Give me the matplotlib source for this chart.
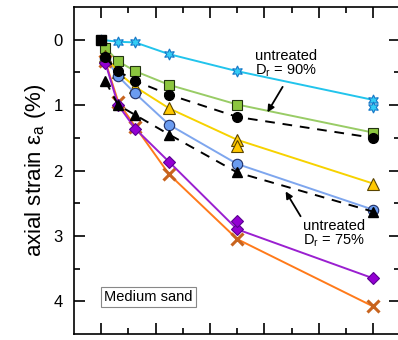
import matplotlib
matplotlib.use("Agg")
import matplotlib.pyplot as plt

plt.rcParams['font.family'] = ['Liberation Sans', 'DejaVu Sans']

# time steps (same for every test)
t = [0, 0.625, 1.25, 2.5, 5, 10]
t_late = [0.15, 0.625, 1.25, 2.5, 5, 10]

# treated specimens, axial strain (%)
cyan = [0.0, 0.03, 0.04, 0.22, 0.48, 0.92]
green = [0.12, 0.33, 0.48, 0.69, 0.99, 1.42]
yellow = [0.25, 0.50, 0.72, 1.05, 1.53, 2.20]
blue = [0.28, 0.56, 0.82, 1.30, 1.90, 2.60]
purple = [0.35, 1.00, 1.36, 1.87, 2.90, 3.65]
orange = [0.33, 0.95, 1.33, 2.06, 3.05, 4.08]

# untreated specimens
dr90 = [0.27, 0.48, 0.63, 0.84, 1.18, 1.50]
dr75 = [0.63, 1.00, 1.15, 1.45, 2.03, 2.63]

# repeat readings
cyan_rep = ([10], [1.03])
yellow_rep = ([5], [1.63])
purple_rep = ([5], [2.77])

fig = plt.figure(figsize=(3.98, 3.40), dpi=100)
ax = fig.add_axes([0.186, 0.018, 0.82, 0.961])

ax.plot(t, cyan, '-', color='#22c4ec', lw=1.4, marker=(6, 1, 0), ms=8,
        mfc='#33ccf5', mec='#1778c8', mew=0.8, zorder=3)
ax.plot(*cyan_rep, ls='none', marker=(6, 1, 0), ms=8,
        mfc='#33ccf5', mec='#1778c8', mew=0.8, zorder=3)
ax.plot(t_late, green, '-', color='#99cc66', lw=1.4, marker='s', ms=7,
        mfc='#8cc63f', mec='#223311', mew=0.8, zorder=3)
ax.plot(t_late, yellow, '-', color='#f7d200', lw=1.4, marker='^', ms=8,
        mfc='#ffc800', mec='#5a4400', mew=0.8, zorder=3)
ax.plot(*yellow_rep, ls='none', marker='^', ms=8,
        mfc='#ffc800', mec='#5a4400', mew=0.8, zorder=3)
ax.plot(t_late, blue, '-', color='#7ea6ee', lw=1.4, marker='o', ms=7.5,
        mfc='#6b9cf0', mec='#1f2f66', mew=0.8, zorder=3)
ax.plot(t_late, orange, '-', color='#ff7a1a', lw=1.4, marker='x', ms=8,
        mec='#c8641e', mew=2.2, zorder=3)
ax.plot(t_late, purple, '-', color='#9a1fd0', lw=1.4, marker='D', ms=6.5,
        mfc='#9400d3', mec='#5a0090', mew=0.8, zorder=3)
ax.plot(*purple_rep, ls='none', marker='D', ms=6.5,
        mfc='#9400d3', mec='#5a0090', mew=0.8, zorder=3)

ax.plot(t_late, dr90, color='k', lw=1.4, dashes=(5, 4), marker='o', ms=7,
        mfc='k', mec='k', zorder=4)
ax.plot(t_late, dr75, color='k', lw=1.4, dashes=(5, 4), marker='^', ms=7.5,
        mfc='k', mec='k', zorder=4)
ax.plot([0], [0], ls='none', marker='s', ms=7.5, mfc='k', mec='k', zorder=5)

# labels for the untreated curves, with pointer arrows
arrow = dict(arrowstyle='-|>', color='k', lw=1.3, mutation_scale=10,
             shrinkA=0, shrinkB=0)
ax.text(6.78, 0.37, 'untreated\nD$_\\mathregular{r}$ = 90%', ha='center',
        va='center', fontsize=10.5, linespacing=1.0)
ax.annotate('', xy=(6.11, 1.11), xytext=(6.67, 0.72), arrowprops=arrow)
ax.text(8.56, 2.97, 'untreated\nD$_\\mathregular{r}$ = 75%', ha='center',
        va='center', fontsize=10.5, linespacing=1.0)
ax.annotate('', xy=(6.78, 2.32), xytext=(7.33, 2.70), arrowprops=arrow)

ax.text(0.11, 3.94, 'Medium sand', ha='left', va='center', fontsize=10.5,
        bbox=dict(boxstyle='square,pad=0.2', fc='white', ec='#888888', lw=0.8))

ax.set_xlim(-1, 11)
ax.set_ylim(4.5, -0.5)
ax.set_xticks([0, 2, 4, 6, 8, 10])
ax.set_xticks([1, 3, 5, 7, 9], minor=True)
ax.set_yticks([0, 1, 2, 3, 4])
ax.set_yticks([0.5, 1.5, 2.5, 3.5], minor=True)
ax.set_xticklabels([])
ax.tick_params(which='both', direction='in', top=True, right=True, width=1.2,
               labelsize=12, pad=8)
ax.tick_params(which='major', length=8)
ax.tick_params(which='minor', length=4.5)
for s in ax.spines.values():
    s.set_linewidth(1.2)

ax.set_ylabel('axial strain ε$_\\mathregular{a}$ (%)', fontsize=16, labelpad=4)

fig.savefig('out.png', dpi=100)
